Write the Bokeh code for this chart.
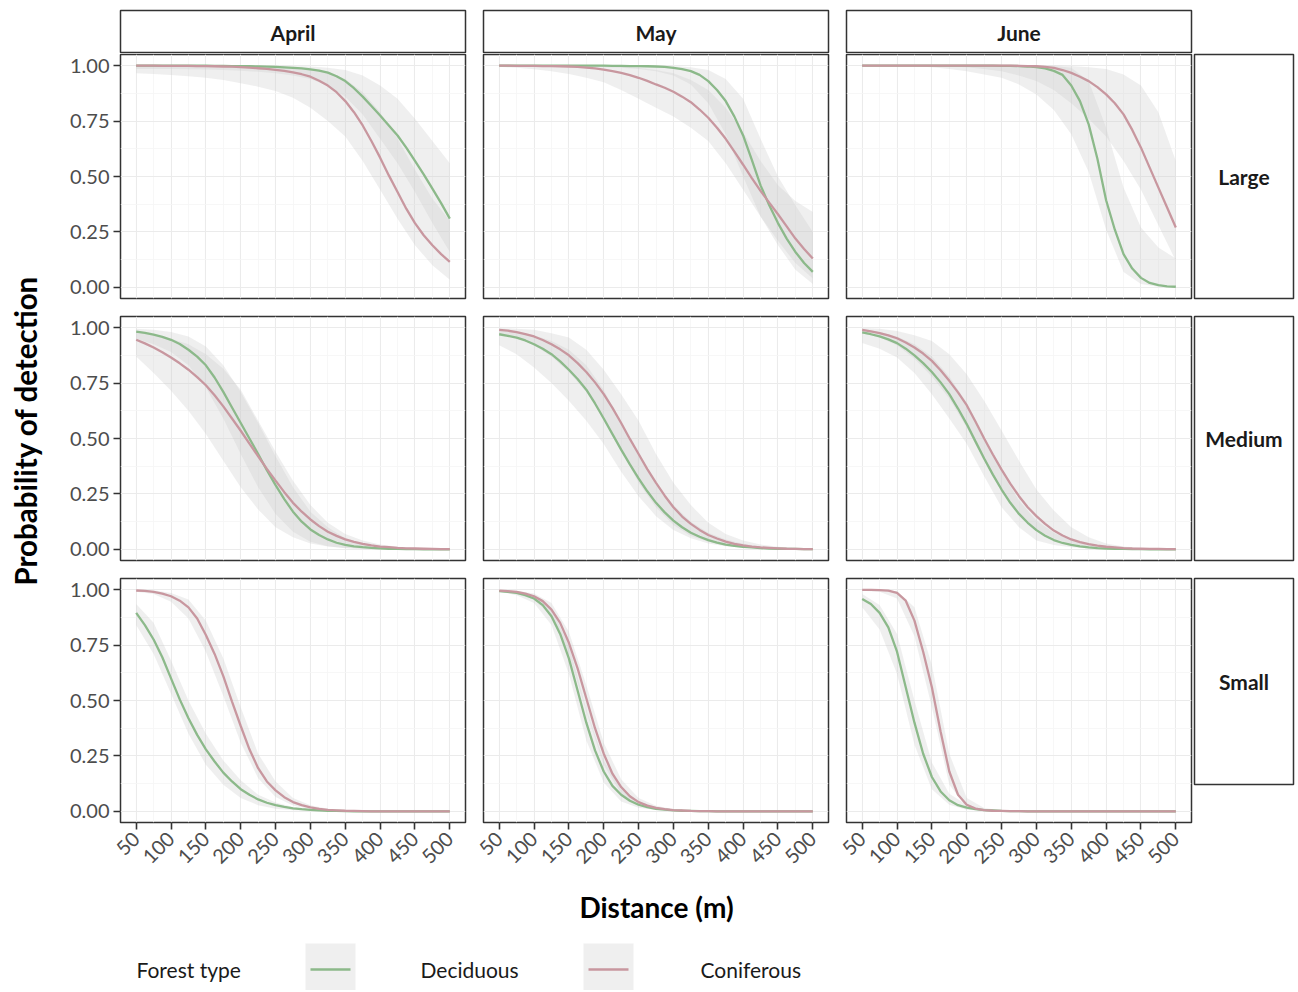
import math
from bokeh.plotting import figure
from bokeh.layouts import row, column
from bokeh.models import Range1d, LinearAxis, FixedTicker, Grid, PrintfTickFormatter
from bokeh.core.properties import value
from bokeh.embed import file_html
from bokeh.resources import INLINE

# ---------------- data ----------------
# distances for the fitted curves (every 12.5 m) and for the confidence bands (every 25 m)
distance_fine = [50, 62.5, 75, 87.5, 100, 112.5, 125, 137.5, 150, 162.5, 175, 187.5,
                 200, 212.5, 225, 237.5, 250, 262.5, 275, 287.5, 300, 312.5, 325, 337.5,
                 350, 362.5, 375, 387.5, 400, 412.5, 425, 437.5, 450, 462.5, 475, 487.5, 500]
distance = [50, 75, 100, 125, 150, 175, 200, 225, 250, 275, 300, 325, 350, 375, 400, 425, 450, 475, 500]
months = ["April", "May", "June"]
sizes = ["Large", "Medium", "Small"]
forest_types = ["Deciduous", "Coniferous"]
x_ticks = [50, 100, 150, 200, 250, 300, 350, 400, 450, 500]
x_minor_ticks = [75, 125, 175, 225, 275, 325, 375, 425, 475]
y_ticks = [0.0, 0.25, 0.5, 0.75, 1.0]
y_minor_ticks = [0.125, 0.375, 0.625, 0.875]

# ---- fitted probability of detection (Deciduous = dec, Coniferous = con) ----
april_large_dec = [1.0, 1.0, 1.0, 1.0,
                   1.0, 1.0, 1.0, 1.0,
                   1.0, 0.999, 0.999, 0.998,
                   0.998, 0.997, 0.996, 0.995,
                   0.994, 0.992, 0.99, 0.987,
                   0.983, 0.977, 0.968, 0.952,
                   0.93, 0.898, 0.86, 0.818,
                   0.775, 0.73, 0.685, 0.63,
                   0.57, 0.51, 0.445, 0.38,
                   0.31]
april_large_con = [1.0, 1.0, 1.0, 0.999,
                   0.999, 0.999, 0.999, 0.998,
                   0.998, 0.997, 0.996, 0.995,
                   0.993, 0.991, 0.988, 0.985,
                   0.981, 0.976, 0.969, 0.961,
                   0.95, 0.932, 0.91, 0.88,
                   0.84, 0.79, 0.73, 0.66,
                   0.585, 0.505, 0.43, 0.355,
                   0.29, 0.235, 0.19, 0.15,
                   0.115]
may_large_dec = [1.0, 1.0, 1.0, 1.0,
                 1.0, 1.0, 1.0, 1.0,
                 1.0, 1.0, 1.0, 1.0,
                 1.0, 0.999, 0.999, 0.998,
                 0.998, 0.997, 0.996, 0.994,
                 0.99, 0.984, 0.975, 0.958,
                 0.93, 0.89, 0.84, 0.77,
                 0.685, 0.575, 0.46, 0.37,
                 0.29, 0.22, 0.16, 0.11,
                 0.07]
may_large_con = [1.0, 1.0, 0.999, 0.999,
                 0.999, 0.998, 0.998, 0.997,
                 0.996, 0.994, 0.991, 0.987,
                 0.982, 0.975, 0.967, 0.957,
                 0.945, 0.931, 0.915, 0.90,
                 0.882, 0.86, 0.835, 0.802,
                 0.765, 0.72, 0.67, 0.612,
                 0.553, 0.493, 0.435, 0.382,
                 0.33, 0.275, 0.22, 0.173,
                 0.13]
june_large_dec = [1.0, 1.0, 1.0, 1.0,
                  1.0, 1.0, 1.0, 1.0,
                  1.0, 1.0, 1.0, 1.0,
                  1.0, 1.0, 1.0, 1.0,
                  0.999, 0.999, 0.998, 0.996,
                  0.993, 0.987, 0.976, 0.958,
                  0.91, 0.84, 0.735, 0.58,
                  0.393, 0.26, 0.15, 0.085,
                  0.043, 0.02, 0.01, 0.005,
                  0.003]
june_large_con = [1.0, 1.0, 1.0, 1.0,
                  1.0, 1.0, 1.0, 1.0,
                  1.0, 1.0, 1.0, 1.0,
                  1.0, 1.0, 1.0, 1.0,
                  1.0, 1.0, 0.999, 0.998,
                  0.997, 0.994, 0.99, 0.98,
                  0.967, 0.95, 0.93, 0.903,
                  0.87, 0.83, 0.78, 0.71,
                  0.63, 0.54, 0.45, 0.36,
                  0.27]
april_medium_dec = [0.982, 0.976, 0.968, 0.958,
                    0.945, 0.926, 0.90, 0.869,
                    0.83, 0.775, 0.71, 0.64,
                    0.57, 0.50, 0.43, 0.357,
                    0.29, 0.227, 0.17, 0.125,
                    0.09, 0.065, 0.045, 0.03,
                    0.02, 0.014, 0.01, 0.007,
                    0.005, 0.003, 0.002, 0.001,
                    0.001, 0.0, 0.0, 0.0,
                    0.0]
april_medium_con = [0.945, 0.929, 0.91, 0.889,
                    0.865, 0.839, 0.81, 0.777,
                    0.74, 0.695, 0.645, 0.59,
                    0.535, 0.477, 0.42, 0.363,
                    0.31, 0.258, 0.21, 0.17,
                    0.135, 0.105, 0.08, 0.061,
                    0.045, 0.034, 0.025, 0.018,
                    0.013, 0.01, 0.007, 0.005,
                    0.004, 0.003, 0.002, 0.001,
                    0.001]
may_medium_dec = [0.97, 0.963, 0.955, 0.942,
                  0.925, 0.905, 0.88, 0.848,
                  0.81, 0.768, 0.72, 0.658,
                  0.59, 0.52, 0.45, 0.383,
                  0.32, 0.262, 0.21, 0.167,
                  0.13, 0.10, 0.075, 0.057,
                  0.042, 0.031, 0.022, 0.016,
                  0.012, 0.009, 0.006, 0.004,
                  0.003, 0.002, 0.002, 0.001,
                  0.001]
may_medium_con = [0.99, 0.986, 0.98, 0.971,
                  0.96, 0.944, 0.925, 0.902,
                  0.875, 0.84, 0.80, 0.753,
                  0.70, 0.638, 0.57, 0.498,
                  0.43, 0.362, 0.30, 0.242,
                  0.19, 0.148, 0.115, 0.088,
                  0.065, 0.049, 0.035, 0.025,
                  0.018, 0.013, 0.009, 0.007,
                  0.005, 0.003, 0.002, 0.001,
                  0.001]
june_medium_dec = [0.978, 0.97, 0.96, 0.947,
                   0.93, 0.905, 0.875, 0.84,
                   0.80, 0.753, 0.70, 0.635,
                   0.565, 0.487, 0.41, 0.337,
                   0.27, 0.21, 0.16, 0.12,
                   0.087, 0.062, 0.042, 0.029,
                   0.02, 0.014, 0.009, 0.006,
                   0.004, 0.003, 0.002, 0.001,
                   0.001, 0.0, 0.0, 0.0,
                   0.0]
june_medium_con = [0.99, 0.983, 0.975, 0.965,
                   0.952, 0.933, 0.91, 0.883,
                   0.85, 0.808, 0.76, 0.708,
                   0.65, 0.577, 0.50, 0.428,
                   0.36, 0.297, 0.24, 0.19,
                   0.15, 0.115, 0.085, 0.063,
                   0.045, 0.033, 0.024, 0.017,
                   0.012, 0.009, 0.006, 0.004,
                   0.003, 0.002, 0.002, 0.001,
                   0.001]
april_small_dec = [0.895, 0.84, 0.775, 0.695,
                   0.60, 0.505, 0.42, 0.345,
                   0.28, 0.225, 0.175, 0.135,
                   0.10, 0.075, 0.054, 0.039,
                   0.028, 0.02, 0.014, 0.01,
                   0.007, 0.005, 0.003, 0.002,
                   0.001, 0.0, 0.0, 0.0,
                   0.0, 0.0, 0.0, 0.0,
                   0.0, 0.0, 0.0, 0.0,
                   0.0]
april_small_con = [0.996, 0.994, 0.99, 0.982,
                   0.97, 0.95, 0.92, 0.87,
                   0.795, 0.71, 0.61, 0.495,
                   0.385, 0.28, 0.195, 0.135,
                   0.095, 0.064, 0.042, 0.028,
                   0.018, 0.011, 0.007, 0.005,
                   0.003, 0.002, 0.001, 0.0,
                   0.0, 0.0, 0.0, 0.0,
                   0.0, 0.0, 0.0, 0.0,
                   0.0]
may_small_dec = [0.993, 0.99, 0.985, 0.975,
                 0.96, 0.93, 0.88, 0.80,
                 0.69, 0.545, 0.40, 0.275,
                 0.18, 0.115, 0.075, 0.048,
                 0.03, 0.019, 0.012, 0.008,
                 0.005, 0.003, 0.002, 0.001,
                 0.001, 0.0, 0.0, 0.0,
                 0.0, 0.0, 0.0, 0.0,
                 0.0, 0.0, 0.0, 0.0,
                 0.0]
may_small_con = [0.995, 0.993, 0.99, 0.982,
                 0.97, 0.948, 0.91, 0.85,
                 0.76, 0.645, 0.51, 0.375,
                 0.26, 0.17, 0.11, 0.068,
                 0.042, 0.026, 0.016, 0.01,
                 0.006, 0.004, 0.002, 0.001,
                 0.001, 0.0, 0.0, 0.0,
                 0.0, 0.0, 0.0, 0.0,
                 0.0, 0.0, 0.0, 0.0,
                 0.0]
june_small_dec = [0.958, 0.935, 0.895, 0.83,
                  0.72, 0.56, 0.40, 0.26,
                  0.155, 0.09, 0.05, 0.028,
                  0.017, 0.01, 0.006, 0.004,
                  0.002, 0.001, 0.001, 0.0,
                  0.0, 0.0, 0.0, 0.0,
                  0.0, 0.0, 0.0, 0.0,
                  0.0, 0.0, 0.0, 0.0,
                  0.0, 0.0, 0.0, 0.0,
                  0.0]
june_small_con = [0.999, 0.999, 0.998, 0.995,
                  0.985, 0.95, 0.86, 0.72,
                  0.56, 0.36, 0.18, 0.075,
                  0.03, 0.013, 0.006, 0.003,
                  0.002, 0.001, 0.001, 0.0,
                  0.0, 0.0, 0.0, 0.0,
                  0.0, 0.0, 0.0, 0.0,
                  0.0, 0.0, 0.0, 0.0,
                  0.0, 0.0, 0.0, 0.0,
                  0.0]

# ---- confidence bands (lower / upper), every 25 m ----
april_large_dec_lo = [0.985, 0.985, 0.985, 0.984, 0.982, 0.98, 0.977, 0.972, 0.965, 0.955, 0.94, 0.91, 0.86, 0.78, 0.67, 0.56, 0.43, 0.29, 0.16]
april_large_dec_hi = [1.0, 1.0, 1.0, 1.0, 1.0, 1.0, 1.0, 1.0, 0.999, 0.998, 0.996, 0.99, 0.98, 0.955, 0.91, 0.85, 0.76, 0.66, 0.56]
april_large_con_lo = [0.965, 0.962, 0.958, 0.952, 0.945, 0.935, 0.92, 0.905, 0.885, 0.855, 0.81, 0.75, 0.68, 0.57, 0.44, 0.31, 0.19, 0.10, 0.035]
april_large_con_hi = [1.0, 1.0, 1.0, 1.0, 1.0, 1.0, 0.999, 0.998, 0.996, 0.993, 0.985, 0.97, 0.94, 0.88, 0.79, 0.67, 0.53, 0.40, 0.30]

may_large_dec_lo = [0.998, 0.998, 0.998, 0.997, 0.996, 0.995, 0.993, 0.99, 0.985, 0.975, 0.955, 0.915, 0.83, 0.69, 0.50, 0.32, 0.19, 0.08, 0.015]
may_large_dec_hi = [1.0, 1.0, 1.0, 1.0, 1.0, 1.0, 1.0, 1.0, 1.0, 0.999, 0.998, 0.993, 0.98, 0.94, 0.85, 0.67, 0.50, 0.37, 0.25]
may_large_con_lo = [0.995, 0.99, 0.983, 0.975, 0.962, 0.945, 0.925, 0.89, 0.85, 0.81, 0.77, 0.72, 0.66, 0.56, 0.44, 0.32, 0.21, 0.11, 0.04]
may_large_con_hi = [1.0, 1.0, 1.0, 1.0, 1.0, 0.999, 0.998, 0.995, 0.99, 0.98, 0.965, 0.935, 0.89, 0.81, 0.70, 0.57, 0.46, 0.39, 0.34]

june_large_dec_lo = [1.0, 0.999, 0.998, 0.997, 0.993, 0.985, 0.975, 0.96, 0.945, 0.915, 0.87, 0.80, 0.69, 0.52, 0.26, 0.07, 0.015, 0.003, 0.001]
june_large_dec_hi = [1.0, 1.0, 1.0, 1.0, 1.0, 1.0, 1.0, 1.0, 1.0, 1.0, 1.0, 0.998, 0.99, 0.93, 0.72, 0.45, 0.27, 0.18, 0.13]
june_large_con_lo = [1.0, 1.0, 1.0, 0.999, 0.998, 0.996, 0.992, 0.985, 0.975, 0.955, 0.93, 0.89, 0.83, 0.76, 0.68, 0.57, 0.44, 0.28, 0.12]
june_large_con_hi = [1.0, 1.0, 1.0, 1.0, 1.0, 1.0, 1.0, 1.0, 1.0, 1.0, 1.0, 1.0, 0.998, 0.993, 0.985, 0.96, 0.91, 0.79, 0.57]

april_medium_dec_lo = [0.95, 0.925, 0.89, 0.83, 0.73, 0.59, 0.43, 0.28, 0.16, 0.08, 0.035, 0.014, 0.005, 0.002, 0.001, 0.0, 0.0, 0.0, 0.0]
april_medium_dec_hi = [0.995, 0.99, 0.98, 0.96, 0.915, 0.83, 0.71, 0.57, 0.42, 0.28, 0.17, 0.10, 0.05, 0.025, 0.012, 0.006, 0.003, 0.001, 0.0]
april_medium_con_lo = [0.87, 0.795, 0.715, 0.625, 0.52, 0.40, 0.28, 0.18, 0.10, 0.055, 0.027, 0.013, 0.006, 0.003, 0.001, 0.0, 0.0, 0.0, 0.0]
april_medium_con_hi = [0.98, 0.97, 0.95, 0.925, 0.88, 0.815, 0.72, 0.58, 0.44, 0.31, 0.20, 0.12, 0.07, 0.04, 0.022, 0.012, 0.007, 0.004, 0.002]

may_medium_dec_lo = [0.92, 0.88, 0.82, 0.75, 0.67, 0.58, 0.475, 0.35, 0.24, 0.15, 0.087, 0.05, 0.027, 0.014, 0.007, 0.003, 0.002, 0.001, 0.0]
may_medium_dec_hi = [0.99, 0.98, 0.965, 0.94, 0.90, 0.83, 0.72, 0.57, 0.42, 0.29, 0.20, 0.125, 0.075, 0.045, 0.025, 0.013, 0.007, 0.004, 0.002]
may_medium_con_lo = [0.975, 0.955, 0.92, 0.87, 0.80, 0.71, 0.60, 0.45, 0.30, 0.19, 0.11, 0.06, 0.035, 0.018, 0.009, 0.004, 0.002, 0.001, 0.0]
may_medium_con_hi = [0.998, 0.995, 0.99, 0.975, 0.955, 0.90, 0.81, 0.70, 0.58, 0.43, 0.30, 0.20, 0.12, 0.07, 0.04, 0.022, 0.012, 0.006, 0.003]

june_medium_dec_lo = [0.93, 0.905, 0.865, 0.795, 0.70, 0.59, 0.476, 0.33, 0.19, 0.10, 0.04, 0.02, 0.01, 0.004, 0.002, 0.001, 0.0, 0.0, 0.0]
june_medium_dec_hi = [0.99, 0.98, 0.96, 0.925, 0.87, 0.78, 0.66, 0.51, 0.35, 0.22, 0.13, 0.075, 0.04, 0.02, 0.01, 0.005, 0.002, 0.001, 0.0]
june_medium_con_lo = [0.975, 0.955, 0.92, 0.86, 0.78, 0.68, 0.55, 0.40, 0.26, 0.16, 0.09, 0.048, 0.025, 0.012, 0.006, 0.003, 0.001, 0.0, 0.0]
june_medium_con_hi = [0.998, 0.995, 0.985, 0.965, 0.94, 0.88, 0.79, 0.67, 0.536, 0.40, 0.27, 0.175, 0.10, 0.055, 0.027, 0.013, 0.006, 0.003, 0.001]

april_small_dec_lo = [0.84, 0.71, 0.53, 0.35, 0.21, 0.12, 0.06, 0.028, 0.012, 0.005, 0.002, 0.001, 0.0, 0.0, 0.0, 0.0, 0.0, 0.0, 0.0]
april_small_dec_hi = [0.935, 0.85, 0.68, 0.50, 0.35, 0.23, 0.14, 0.075, 0.04, 0.02, 0.01, 0.005, 0.002, 0.001, 0.0, 0.0, 0.0, 0.0, 0.0]
april_small_con_lo = [0.99, 0.98, 0.945, 0.87, 0.72, 0.52, 0.31, 0.15, 0.065, 0.027, 0.01, 0.004, 0.001, 0.0, 0.0, 0.0, 0.0, 0.0, 0.0]
april_small_con_hi = [0.999, 0.997, 0.985, 0.955, 0.86, 0.69, 0.47, 0.26, 0.135, 0.06, 0.028, 0.012, 0.005, 0.002, 0.001, 0.0, 0.0, 0.0, 0.0]

may_small_dec_lo = [0.99, 0.975, 0.94, 0.84, 0.62, 0.32, 0.13, 0.045, 0.016, 0.006, 0.002, 0.001, 0.0, 0.0, 0.0, 0.0, 0.0, 0.0, 0.0]
may_small_dec_hi = [0.997, 0.993, 0.975, 0.915, 0.75, 0.46, 0.23, 0.10, 0.045, 0.02, 0.008, 0.003, 0.001, 0.0, 0.0, 0.0, 0.0, 0.0, 0.0]
may_small_con_lo = [0.99, 0.98, 0.955, 0.88, 0.71, 0.45, 0.21, 0.08, 0.028, 0.01, 0.003, 0.001, 0.0, 0.0, 0.0, 0.0, 0.0, 0.0, 0.0]
may_small_con_hi = [0.998, 0.995, 0.982, 0.94, 0.81, 0.57, 0.31, 0.145, 0.06, 0.025, 0.01, 0.004, 0.002, 0.001, 0.0, 0.0, 0.0, 0.0, 0.0]

june_small_dec_lo = [0.92, 0.82, 0.62, 0.30, 0.10, 0.03, 0.008, 0.002, 0.001, 0.0, 0.0, 0.0, 0.0, 0.0, 0.0, 0.0, 0.0, 0.0, 0.0]
june_small_dec_hi = [0.98, 0.93, 0.80, 0.50, 0.22, 0.08, 0.03, 0.01, 0.004, 0.001, 0.0, 0.0, 0.0, 0.0, 0.0, 0.0, 0.0, 0.0, 0.0]
june_small_con_lo = [0.995, 0.99, 0.96, 0.79, 0.47, 0.12, 0.02, 0.004, 0.001, 0.0, 0.0, 0.0, 0.0, 0.0, 0.0, 0.0, 0.0, 0.0, 0.0]
june_small_con_hi = [1.0, 0.999, 0.993, 0.92, 0.66, 0.26, 0.06, 0.015, 0.004, 0.001, 0.0, 0.0, 0.0, 0.0, 0.0, 0.0, 0.0, 0.0, 0.0]

curves = {
    ("April", "Large"): (april_large_dec, april_large_dec_lo, april_large_dec_hi, april_large_con, april_large_con_lo, april_large_con_hi),
    ("May", "Large"): (may_large_dec, may_large_dec_lo, may_large_dec_hi, may_large_con, may_large_con_lo, may_large_con_hi),
    ("June", "Large"): (june_large_dec, june_large_dec_lo, june_large_dec_hi, june_large_con, june_large_con_lo, june_large_con_hi),
    ("April", "Medium"): (april_medium_dec, april_medium_dec_lo, april_medium_dec_hi, april_medium_con, april_medium_con_lo, april_medium_con_hi),
    ("May", "Medium"): (may_medium_dec, may_medium_dec_lo, may_medium_dec_hi, may_medium_con, may_medium_con_lo, may_medium_con_hi),
    ("June", "Medium"): (june_medium_dec, june_medium_dec_lo, june_medium_dec_hi, june_medium_con, june_medium_con_lo, june_medium_con_hi),
    ("April", "Small"): (april_small_dec, april_small_dec_lo, april_small_dec_hi, april_small_con, april_small_con_lo, april_small_con_hi),
    ("May", "Small"): (may_small_dec, may_small_dec_lo, may_small_dec_hi, may_small_con, may_small_con_lo, may_small_con_hi),
    ("June", "Small"): (june_small_dec, june_small_dec_lo, june_small_dec_hi, june_small_con, june_small_con_lo, june_small_con_hi),
}

# ---------------- style ----------------
FONT = "Lato"
GREEN = "#8cb98a"
PINK = "#c8979f"
RIBBON = "#cbcbcb"
RIBBON_ALPHA = 0.31
BORDER = "#333333"
TICK_TXT = "#4d4d4d"
FRAME_W = 345
FRAME_H = 244

xt = FixedTicker(ticks=x_ticks, minor_ticks=x_minor_ticks)
yt = FixedTicker(ticks=y_ticks, minor_ticks=y_minor_ticks)


def blank(width, height, xr, yr, **borders):
    b = dict(min_border_left=0, min_border_right=0, min_border_top=0, min_border_bottom=0)
    b.update(borders)
    p = figure(width=width, height=height, x_range=xr, y_range=yr,
               x_axis_type=None, y_axis_type=None, toolbar_location=None,
               output_backend="svg", **b)
    p.background_fill_color = "white"
    p.border_fill_color = "white"
    p.outline_line_color = None
    return p


def panel(ci, ri):
    left = 60 if ci == 0 else 16
    bottom = 55 if ri == 2 else 17
    p = blank(left + FRAME_W + 2, 1 + FRAME_H + bottom,
              Range1d(27.5, 522.5), Range1d(-0.05, 1.05),
              min_border_left=left, min_border_right=2,
              min_border_top=1, min_border_bottom=bottom)
    p.outline_line_color = BORDER
    p.outline_line_width = 1.5
    p.add_layout(Grid(dimension=0, ticker=xt, grid_line_color="#ebebeb", grid_line_width=1.1,
                      minor_grid_line_color="#f5f5f5", minor_grid_line_width=0.8))
    p.add_layout(Grid(dimension=1, ticker=yt, grid_line_color="#ebebeb", grid_line_width=1.1,
                      minor_grid_line_color="#f5f5f5", minor_grid_line_width=0.8))
    dec, dec_lo, dec_hi, con, con_lo, con_hi = curves[(months[ci], sizes[ri])]
    p.varea(x=distance, y1=dec_lo, y2=dec_hi, fill_color=RIBBON, fill_alpha=RIBBON_ALPHA)
    p.varea(x=distance, y1=con_lo, y2=con_hi, fill_color=RIBBON, fill_alpha=RIBBON_ALPHA)
    p.line(x=distance_fine, y=dec, line_color=GREEN, line_width=2.3)
    p.line(x=distance_fine, y=con, line_color=PINK, line_width=2.3)
    common = dict(axis_line_color=None, major_tick_line_color=BORDER, major_tick_line_width=1.6,
                  major_tick_out=7, major_tick_in=0, minor_tick_line_color=None,
                  major_label_text_font=FONT, major_label_text_font_size="20px",
                  major_label_text_color=TICK_TXT)
    if ci == 0:
        ya = LinearAxis(ticker=yt, formatter=PrintfTickFormatter(format="%.2f"),
                        major_label_standoff=4, **common)
        p.add_layout(ya, "left")
    if ri == 2:
        xa = LinearAxis(ticker=xt, major_label_orientation=math.pi / 4,
                        major_label_standoff=6, **common)
        p.add_layout(xa, "below")
    return p


def strip_text(p, label):
    p.text(x=[0.5], y=[0.5], text=[label], text_align="center", text_baseline="middle",
           text_font=value(FONT), text_font_style="bold", text_font_size="21px", text_color="#1a1a1a")


def strip_top(ci, label):
    left = 60 if ci == 0 else 16
    p = blank(left + FRAME_W + 2, 53, Range1d(0, 1), Range1d(0, 1),
              min_border_left=left, min_border_right=2, min_border_top=10, min_border_bottom=0)
    p.outline_line_color = BORDER
    p.outline_line_width = 1.5
    strip_text(p, label)
    return p


def strip_right(label):
    p = blank(102, 1 + FRAME_H + 17, Range1d(0, 1), Range1d(0, 1),
              min_border_left=1, min_border_right=2, min_border_top=1, min_border_bottom=17)
    p.outline_line_color = BORDER
    p.outline_line_width = 1.5
    strip_text(p, label)
    return p


top = row(*[strip_top(ci, m) for ci, m in enumerate(months)])
panel_rows = []
for ri, s in enumerate(sizes):
    panel_rows.append(row(*[panel(ci, ri) for ci in range(3)], strip_right(s)))

# x-axis title
xlab = blank(1235, 53, Range1d(0, 1235), Range1d(53, 0))
xlab.text(x=[596], y=[29], text=["Distance (m)"], text_align="center", text_baseline="middle",
          text_font=value(FONT), text_font_style="bold", text_font_size="28px", text_color="black")

# legend
leg = blank(1235, 60, Range1d(0, 1235), Range1d(60, 0))
leg.text(x=[76], y=[39], text=["Forest type"], text_align="left", text_baseline="middle",
         text_font=value(FONT), text_font_size="21px", text_color="#1a1a1a")
key_left = [245, 523]
label_left = [360, 640]
for kl, ll, name, col in zip(key_left, label_left, forest_types, [GREEN, PINK]):
    leg.quad(left=[kl], right=[kl + 50], top=[13], bottom=[70], fill_color=RIBBON,
             fill_alpha=RIBBON_ALPHA, line_color=None)
    leg.line(x=[kl + 5, kl + 45], y=[39, 39], line_color=col, line_width=2.3)
    leg.text(x=[ll], y=[39], text=[name], text_align="left", text_baseline="middle",
             text_font=value(FONT), text_font_size="21px", text_color="#1a1a1a")

# y-axis title
ylab = blank(60, 990, Range1d(0, 60), Range1d(990, 0))
ylab.text(x=[25], y=[430], text=["Probability of detection"], angle=math.pi / 2,
          text_align="center", text_baseline="middle", text_font=value(FONT),
          text_font_style="bold", text_font_size="29.5px", text_color="black")

layout = row(ylab, column(top, *panel_rows, xlab, leg))

open("out.html", "w").write(file_html(layout, INLINE, title="Probability of detection"))
